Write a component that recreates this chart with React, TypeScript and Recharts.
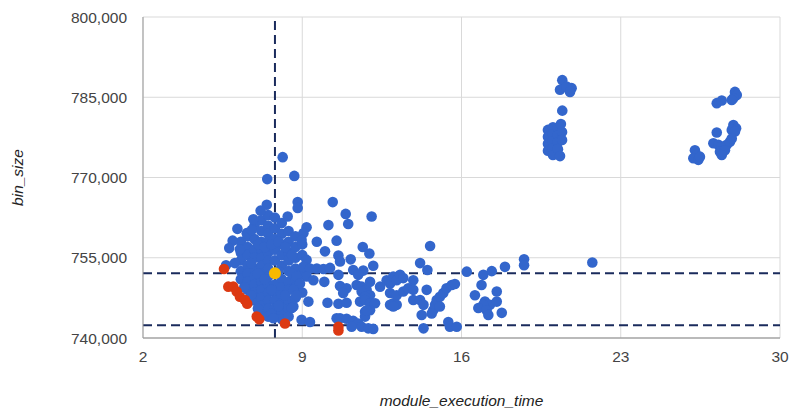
import { CartesianGrid, ReferenceLine, Scatter, ScatterChart, XAxis, YAxis } from 'recharts';

// x = module_execution_time, y = bin_size in thousands
const mainBlob: [number, number][] = [
  [6.3, 758], [6.3, 756], [6.3, 754.5], [6.3, 752.5], [6.3, 751],
  [6.6, 759], [6.6, 757], [6.6, 755.5], [6.6, 753.5], [6.6, 752], [6.6, 750.5], [6.6, 749],
  [6.9, 761], [6.9, 758.5], [6.9, 756.5], [6.9, 755], [6.9, 753], [6.9, 751.5], [6.9, 750], [6.9, 748.5], [6.9, 747],
  [7.2, 762], [7.2, 760], [7.2, 758], [7.2, 756.5], [7.2, 755], [7.2, 753.5], [7.2, 752], [7.2, 750.5], [7.2, 749], [7.2, 747.5], [7.2, 746], [7.2, 744.5],
  [7.5, 763], [7.5, 761], [7.5, 759.5], [7.5, 758], [7.5, 756], [7.5, 754.5], [7.5, 753], [7.5, 751.5], [7.5, 750], [7.5, 748.5], [7.5, 747], [7.5, 745.5], [7.5, 744],
  [7.8, 762.5], [7.8, 760.5], [7.8, 758.5], [7.8, 756.5], [7.8, 754.5], [7.8, 750], [7.8, 748.5], [7.8, 747], [7.8, 745.5], [7.8, 744.5],
  [8.1, 761.5], [8.1, 759.5], [8.1, 757.5], [8.1, 755.5], [8.1, 753.5], [8.1, 751], [8.1, 749.5], [8.1, 748], [8.1, 746.5], [8.1, 745], [8.1, 743.5],
  [8.4, 760], [8.4, 758], [8.4, 756], [8.4, 754.5], [8.4, 752.5], [8.4, 750.5], [8.4, 749], [8.4, 747], [8.4, 745.5], [8.4, 744],
  [8.7, 759], [8.7, 757], [8.7, 755], [8.7, 753], [8.7, 751], [8.7, 749.5], [8.7, 747.5],
  [9.0, 757.5], [9.0, 755.5], [9.0, 752], [9.0, 748.5],
  [6.75, 754], [7.05, 757.5], [7.05, 752], [7.05, 745.5], [7.35, 757], [7.35, 751], [7.65, 757.5], [7.65, 749], [7.65, 744.5],
  [7.95, 758], [7.95, 752.5], [7.95, 746], [8.25, 757], [8.25, 748], [8.55, 755.5], [8.55, 752], [6.45, 749.5], [6.75, 748],
];

const mainScatter: [number, number][] = [
  [8.14, 773.8], [8.65, 770.3], [7.46, 769.7], [10.34, 765.4], [8.8, 765.4], [8.8, 764.3], [7.44, 764.9], [7.17, 763.8],
  [10.91, 763.2], [12.05, 762.7], [8.36, 762.7], [6.85, 762.2], [10.15, 761.1], [11.02, 761.3], [9.19, 760.7], [9.05, 759.6],
  [6.15, 760.4], [6.56, 759.6], [6.78, 760.2], [5.94, 758.2], [10.51, 758.2], [9.64, 758.0], [8.97, 758.3], [5.79, 756.8],
  [6.26, 756.6], [11.66, 757.0], [10.0, 756.2], [11.95, 755.8], [12.12, 753.5], [11.13, 754.7], [10.59, 755.4], [10.66, 754.3],
  [9.19, 754.6], [9.05, 753.3], [9.34, 753.0], [9.64, 753.0], [9.93, 752.9], [10.22, 753.1], [5.65, 753.6], [6.04, 754.0],
  [11.24, 752.7], [11.68, 752.6], [11.46, 751.8], [10.59, 751.8], [9.19, 751.5], [8.76, 751.5], [8.9, 750.2], [9.49, 750.8],
  [9.97, 750.5], [10.66, 749.7], [10.95, 749.3], [10.8, 748.4], [11.39, 749.9], [11.61, 749.6], [11.83, 749.0], [11.98, 748.0],
  [11.98, 750.5], [12.42, 749.6], [12.71, 750.8], [12.86, 750.2], [13.0, 751.5], [13.15, 750.8], [13.3, 751.8], [12.86, 748.4],
  [13.0, 746.5], [12.86, 746.2], [11.61, 748.7], [11.76, 747.7], [8.61, 749.0], [8.76, 748.0], [8.61, 745.9], [9.27, 746.8],
  [10.11, 746.6], [10.59, 746.4], [10.95, 746.6], [11.54, 746.8], [11.76, 747.1], [11.98, 746.5], [12.2, 746.5], [11.76, 744.9],
  [11.76, 744.0], [11.98, 745.2], [11.83, 745.2], [8.54, 745.6], [8.97, 743.4], [9.34, 743.0], [7.73, 743.7], [10.51, 743.7],
  [10.66, 743.7], [10.95, 743.6], [11.24, 743.2], [11.46, 742.7], [11.61, 742.1], [11.17, 742.1], [11.9, 741.8], [12.12, 741.7],
];

const midRange: [number, number][] = [
  [14.62, 757.2], [14.18, 754.0], [14.5, 752.7], [13.44, 751.2], [13.88, 750.8], [13.15, 748.0], [13.44, 748.7], [13.66, 749.3],
  [13.88, 749.0], [13.15, 746.2], [13.0, 745.9], [13.88, 747.1], [14.18, 747.1], [14.33, 746.2], [14.47, 749.0], [14.25, 744.3],
  [14.76, 745.2], [14.84, 746.2], [14.91, 747.1], [15.05, 747.7], [15.2, 748.4], [15.34, 749.3], [15.57, 749.9], [15.71, 750.1],
  [14.69, 744.6], [15.05, 745.9], [14.33, 741.8], [15.42, 743.0], [15.49, 742.1], [15.79, 742.1], [16.23, 752.4], [16.96, 751.8],
  [17.33, 752.5], [17.91, 753.3], [16.88, 749.9], [16.59, 748.0], [17.55, 748.7], [17.03, 746.8], [17.25, 746.2], [16.96, 746.2],
  [16.74, 745.6], [17.1, 745.2], [17.55, 746.8], [17.18, 744.3], [17.77, 744.7], [18.75, 754.7], [18.75, 753.6], [21.75, 754.1],
];

const cluster20: [number, number][] = [
  [20.43, 788.2], [20.33, 786.4], [20.62, 787.0], [20.84, 786.7], [20.77, 786.0], [20.43, 782.5],
  [19.8, 778.9], [19.8, 777.6], [19.8, 776.3], [19.8, 775.0], [20.02, 779.4], [20.02, 778.1], [20.02, 776.8], [20.02, 775.5],
  [20.02, 774.2], [20.24, 779.3], [20.24, 777.9], [20.24, 776.6], [20.24, 775.3], [20.42, 778.5], [20.42, 777.0], [20.37, 780.0],
  [20.33, 774.0],
];

const cluster27: [number, number][] = [
  [28.02, 786.0], [28.1, 785.4], [27.95, 784.8], [27.88, 784.5], [27.22, 783.9], [27.44, 784.4], [27.22, 778.4], [27.95, 779.8],
  [28.07, 779.2], [27.88, 778.9], [28.02, 778.6], [27.07, 776.4], [27.29, 776.1], [27.44, 775.8], [27.66, 776.1], [27.8, 776.7],
  [27.88, 777.3], [27.36, 774.8], [27.58, 775.1], [27.44, 774.2], [26.26, 775.1], [26.33, 774.2], [26.19, 773.6], [26.41, 773.3],
  [26.48, 773.9],
];

const outliers: [number, number][] = [
  [5.56, 752.9], [5.75, 749.6], [5.97, 749.6], [6.12, 748.7], [6.26, 747.7], [6.48, 747.1], [6.58, 746.4],
  [7.0, 744.0], [7.11, 743.5], [8.24, 742.7], [10.59, 742.1], [10.59, 741.4],
];

const centroid: [number, number][] = [[7.8, 752.1]];

const markerX = 7.8;
const markerY = [752100, 742400];

const xTicks = [2, 9, 16, 23, 30];
const yTicks = [740000, 755000, 770000, 785000, 800000];

const toPoints = (rows: [number, number][]) => rows.map(([x, y]) => ({ x, y: y * 1000 }));

const blue = toPoints([...mainBlob, ...mainScatter, ...midRange, ...cluster20, ...cluster27]);
const red = toPoints(outliers);
const yellow = toPoints(centroid);

const font = '"Liberation Sans", Arial, sans-serif';
const tickStyle = { fill: '#444', fontSize: 15.5, fontFamily: font };

const dot = (color: string, r: number) => (p: any) => <circle cx={p.cx} cy={p.cy} r={r} fill={color} />;

export default function App() {
  return (
    <div style={{ position: 'absolute', left: 0, top: 0, background: '#fff' }}>
      <ScatterChart width={790} height={408} margin={{ top: 17, right: 10, bottom: 0, left: 0 }}>
        <CartesianGrid stroke="#d9d9d9" />
        <XAxis
          type="number"
          dataKey="x"
          domain={[2, 30]}
          ticks={xTicks}
          interval={0}
          height={70}
          tickSize={0}
          tickMargin={13}
          axisLine={{ stroke: '#888' }}
          tick={tickStyle}
          label={({ viewBox }: any) => (
            <text
              x={viewBox.x + viewBox.width / 2}
              y={viewBox.y + 62}
              textAnchor="middle"
              dominantBaseline="central"
              fontStyle="italic"
              fontSize={15.5}
              fontFamily={font}
              fill="#222"
            >
              module_execution_time
            </text>
          )}
        />
        <YAxis
          type="number"
          dataKey="y"
          domain={[740000, 800000]}
          ticks={yTicks}
          interval={0}
          width={143}
          tickSize={0}
          tickMargin={16}
          axisLine={{ stroke: '#999' }}
          tick={tickStyle}
          tickFormatter={(v: number) => v.toLocaleString('en-US')}
          label={({ viewBox }: any) => {
            const cx = viewBox.x + 17;
            const cy = viewBox.y + viewBox.height / 2;
            return (
              <text
                x={cx}
                y={cy}
                transform={`rotate(-90 ${cx} ${cy})`}
                textAnchor="middle"
                dominantBaseline="central"
                fontStyle="italic"
                fontSize={15.5}
                fontFamily={font}
                fill="#222"
              >
                bin_size
              </text>
            );
          }}
        />
        <Scatter data={blue} fill="#3366cc" shape={dot('#3366cc', 5.3)} isAnimationActive={false} />
        <Scatter data={red} fill="#dc3912" shape={dot('#dc3912', 5.3)} isAnimationActive={false} />
        <Scatter data={yellow} fill="#f6b900" shape={dot('#f6b900', 6)} isAnimationActive={false} />
        <ReferenceLine x={markerX} stroke="#1a2b5c" strokeWidth={2} strokeDasharray="9 5" />
        {markerY.map((v) => (
          <ReferenceLine key={v} y={v} stroke="#1a2b5c" strokeWidth={2} strokeDasharray="9 5" />
        ))}
      </ScatterChart>
    </div>
  );
}
